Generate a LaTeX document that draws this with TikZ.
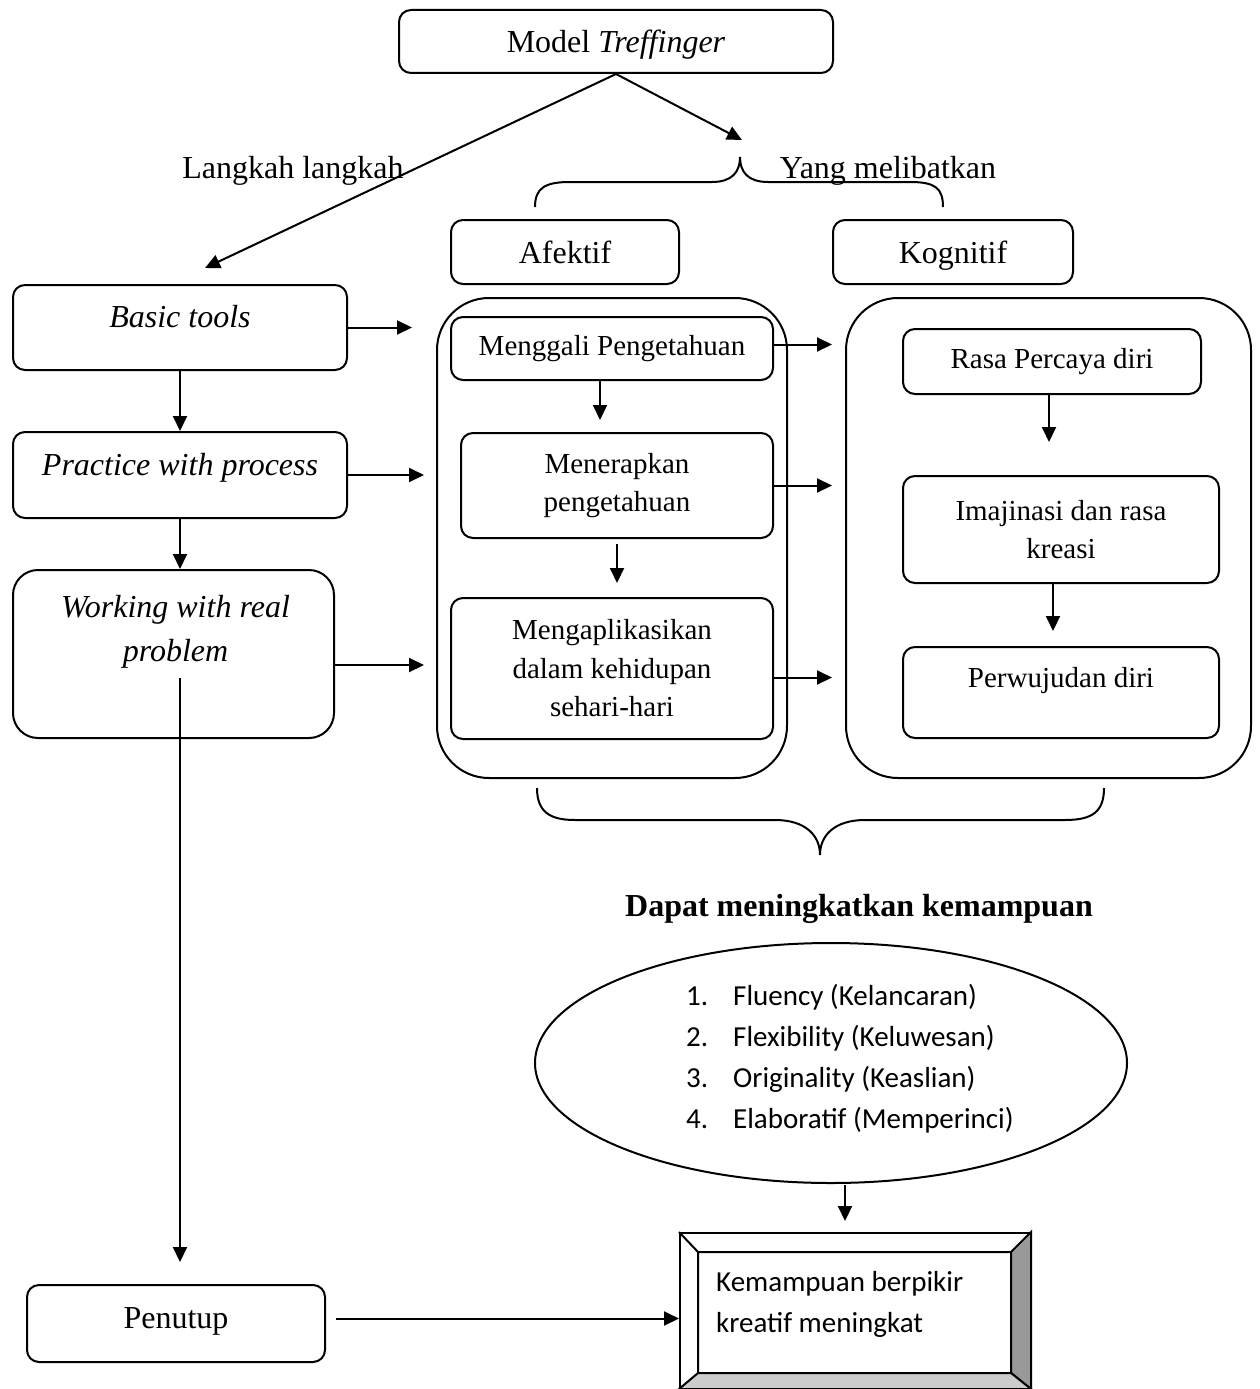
\documentclass[tikz,border=0pt]{standalone}
\usepackage{fontspec}
\setmainfont{Liberation Serif}
\setsansfont{Carlito}
\usetikzlibrary{positioning,shapes.geometric,arrows.meta}
\newcommand{\bigfont}{\fontsize{32}{44}\selectfont}
\newcommand{\midfont}{\fontsize{29}{38.5}\selectfont}
\newcommand{\listfont}{\sffamily\fontsize{29}{41}\selectfont}
\definecolor{BevelDark}{RGB}{153,153,153}
\definecolor{BevelLight}{RGB}{204,204,204}
\tikzset{%
  wbox/.style={draw, line width=2pt, rounded corners=12pt, inner sep=0pt},
  wh/.style 2 args={minimum width=#1, minimum height=#2},
  grpbox/.style={draw, line width=2pt, rounded corners=52pt, inner sep=0pt},
  lbl/.style={font=\bigfont, inner sep=0pt, align=center},
  oneline/.style={text height=22pt, text depth=0pt},
  midtxt/.style={font=\midfont, inner sep=0pt, align=center},
  arrow/.style={line width=2pt, -{Triangle[length=15pt,width=14pt]}},
  brace/.style={line width=2pt},
}

\begin{document}
\begin{tikzpicture}[x=1pt, y=-1pt]
    \useasboundingbox (0,0) rectangle (1259,1389);

    \node[wbox, oneline, wh={434pt}{63pt}, font=\bigfont] (model) at (616,41.5) {Model \textit{Treffinger}};
    \node[lbl, oneline] (langkah) at (293,167) {Langkah langkah};
    \node[lbl, oneline] (yang) at (888,167) {Yang melibatkan};
    \coordinate (langkahend) at (205,268);
    \coordinate (yangend) at (742,140);
    \draw[arrow] (model.south) -- (langkahend);
    \draw[arrow] (model.south) -- (yangend);

    \draw[brace] (535,207) .. controls (535,188) and (545,182) .. (570,182) -- (712,182)
        .. controls (732,182) and (740,172) .. (740,157)
        .. controls (740,172) and (748,182) .. (768,182) -- (910,182)
        .. controls (935,182) and (943,188) .. (943,207);

    \node[wbox, oneline, wh={228pt}{64pt}, font=\bigfont] (afektif) at (565,252) {Afektif};
    \node[wbox, oneline, wh={240pt}{64pt}, font=\bigfont] (kognitif) at (953,252) {Kognitif};

    % langkah langkah
    \node[wbox, wh={334pt}{85pt}] (basic) at (180,327.5) {};
    \node[lbl, below=21pt of basic.north] {\textit{Basic tools}};
    \node[wbox, wh={334pt}{86pt}] (practice) at (180,475) {};
    \node[lbl, below=22pt of practice.north] {\textit{Practice with process}};
    \node[wbox, rounded corners=25pt, wh={321pt}{168pt}] (working) at (173.5,654) {};
    \node[lbl, below=26pt of working.north, xshift=2pt] {\textit{Working with real}\\\textit{problem}};
    \node[wbox, wh={298pt}{77pt}] (penutup) at (176,1323.5) {};
    \node[lbl, below=23pt of penutup.north] {Penutup};

    \draw[arrow] (basic) -- (practice);
    \draw[arrow] (practice.south) -- (practice.south |- working.north);
    \coordinate (longstart) at (180,678);
    \coordinate (longend) at (180,1262);
    \draw[arrow] (longstart) -- (longend);

    % afektif dan kognitif
    \node[grpbox, wh={350pt}{480pt}] (afekgrp) at (612,538) {};
    \node[grpbox, wh={405pt}{480pt}] (koggrp) at (1048.5,538) {};

    \draw[arrow] (basic.east) -- ([xshift=-24pt]afekgrp.west |- basic.east);
    \draw[arrow] (practice.east) -- ([xshift=-12pt]afekgrp.west |- practice.east);
    \draw[arrow] ([yshift=-11pt]working.east) -- ([xshift=-12pt,yshift=-11pt]afekgrp.west |- working.east);

    \node[wbox, wh={322pt}{63pt}, midtxt] (menggali) at (612,348.5) {Menggali Pengetahuan};
    \node[wbox, wh={312pt}{105pt}, midtxt] (menerapkan) at (617,485.5) {Menerapkan\\pengetahuan};
    \node[wbox, wh={322pt}{141pt}, midtxt] (mengapl) at (612,668.5) {Mengaplikasikan\\dalam kehidupan\\sehari-hari};
    \draw[arrow] ([xshift=-12pt]menggali.south) -- ([xshift=-12pt,yshift=12pt]menggali.south |- menerapkan.north);
    \draw[arrow] ([yshift=-5pt]menerapkan.south) -- ([yshift=14pt]menerapkan.south |- mengapl.north);

    \node[wbox, wh={298pt}{65pt}, midtxt] (rasa) at (1052,361.5) {Rasa Percaya diri};
    \node[wbox, wh={316pt}{107pt}, midtxt] (imajinasi) at (1061,529.5) {Imajinasi dan rasa\\kreasi};
    \node[wbox, wh={316pt}{91pt}] (perwujudan) at (1061,692.5) {};
    \node[midtxt, below=21pt of perwujudan.north] {Perwujudan diri};
    \draw[arrow] ([xshift=-3pt]rasa.south) -- ([xshift=-3pt,yshift=33pt]rasa.south |- imajinasi.north);
    \draw[arrow] ([xshift=-8pt]imajinasi.south) -- ([xshift=-8pt,yshift=15pt]imajinasi.south |- perwujudan.north);

    \draw[arrow] ([yshift=4pt]menggali.east) -- ([xshift=-13pt,yshift=4pt]koggrp.west |- menggali.east);
    \draw[arrow] (menerapkan.east) -- ([xshift=-13pt]koggrp.west |- menerapkan.east);
    \draw[arrow] ([yshift=-9pt]mengapl.east) -- ([xshift=-13pt,yshift=-9pt]koggrp.west |- mengapl.east);

    \draw[brace] (537,788) .. controls (537,812) and (550,820) .. (575,820) -- (775,820)
        .. controls (805,820) and (820,835) .. (820,855)
        .. controls (820,835) and (835,820) .. (865,820) -- (1065,820)
        .. controls (1092,820) and (1104,812) .. (1104,788);

    % kemampuan
    \node[lbl, oneline, font=\bigfont\bfseries] (dapat) at (859,905) {Dapat meningkatkan kemampuan};
    \node[draw, ellipse, line width=2pt, wh={592pt}{240pt}, inner sep=0pt] (kemampuan) at (831,1063) {};
    \node[font=\listfont, inner sep=0pt, anchor=west] (ciri) at (686,1059) {%
        \begin{tabular}{@{}p{47pt}@{}l@{}}
            1. & Fluency (Kelancaran) \\
            2. & Flexibility (Keluwesan) \\
            3. & Originality (Keaslian) \\
            4. & Elaboratif (Memperinci) \\
        \end{tabular}};

    \node[draw, line width=2pt, wh={350pt}{155pt}, inner sep=0pt] (kreatif) at (855,1310.5) {};
    \coordinate (inNW) at ([xshift=19pt,yshift=-20pt]kreatif.north west);
    \coordinate (inNE) at ([xshift=-20pt,yshift=-20pt]kreatif.north east);
    \coordinate (inSE) at ([xshift=-20pt,yshift=16pt]kreatif.south east);
    \coordinate (inSW) at ([xshift=19pt,yshift=16pt]kreatif.south west);
    \draw[line width=2pt, fill=BevelDark] (kreatif.north east) -- (kreatif.south east) -- (inSE) -- (inNE) -- cycle;
    \draw[line width=2pt, fill=BevelLight] (kreatif.south west) -- (kreatif.south east) -- (inSE) -- (inSW) -- cycle;
    \draw[line width=2pt] (kreatif.north west) -- (inNW) -- (inNE) (inNW) -- (inSW);
    \node[font=\listfont, align=left, anchor=west, inner sep=0pt] (kreatiftxt) at ([xshift=37pt,yshift=6pt]kreatif.west) {Kemampuan berpikir\\kreatif meningkat};

    \draw[arrow] ([yshift=-0.5pt]kemampuan.south -| 845,0) -- ([yshift=11pt]kreatif.north -| 845,0);
    \draw[arrow] ([xshift=10pt,yshift=5pt]penutup.east) -- ([yshift=5pt]penutup.east -| kreatif.west);
\end{tikzpicture}
\end{document}
